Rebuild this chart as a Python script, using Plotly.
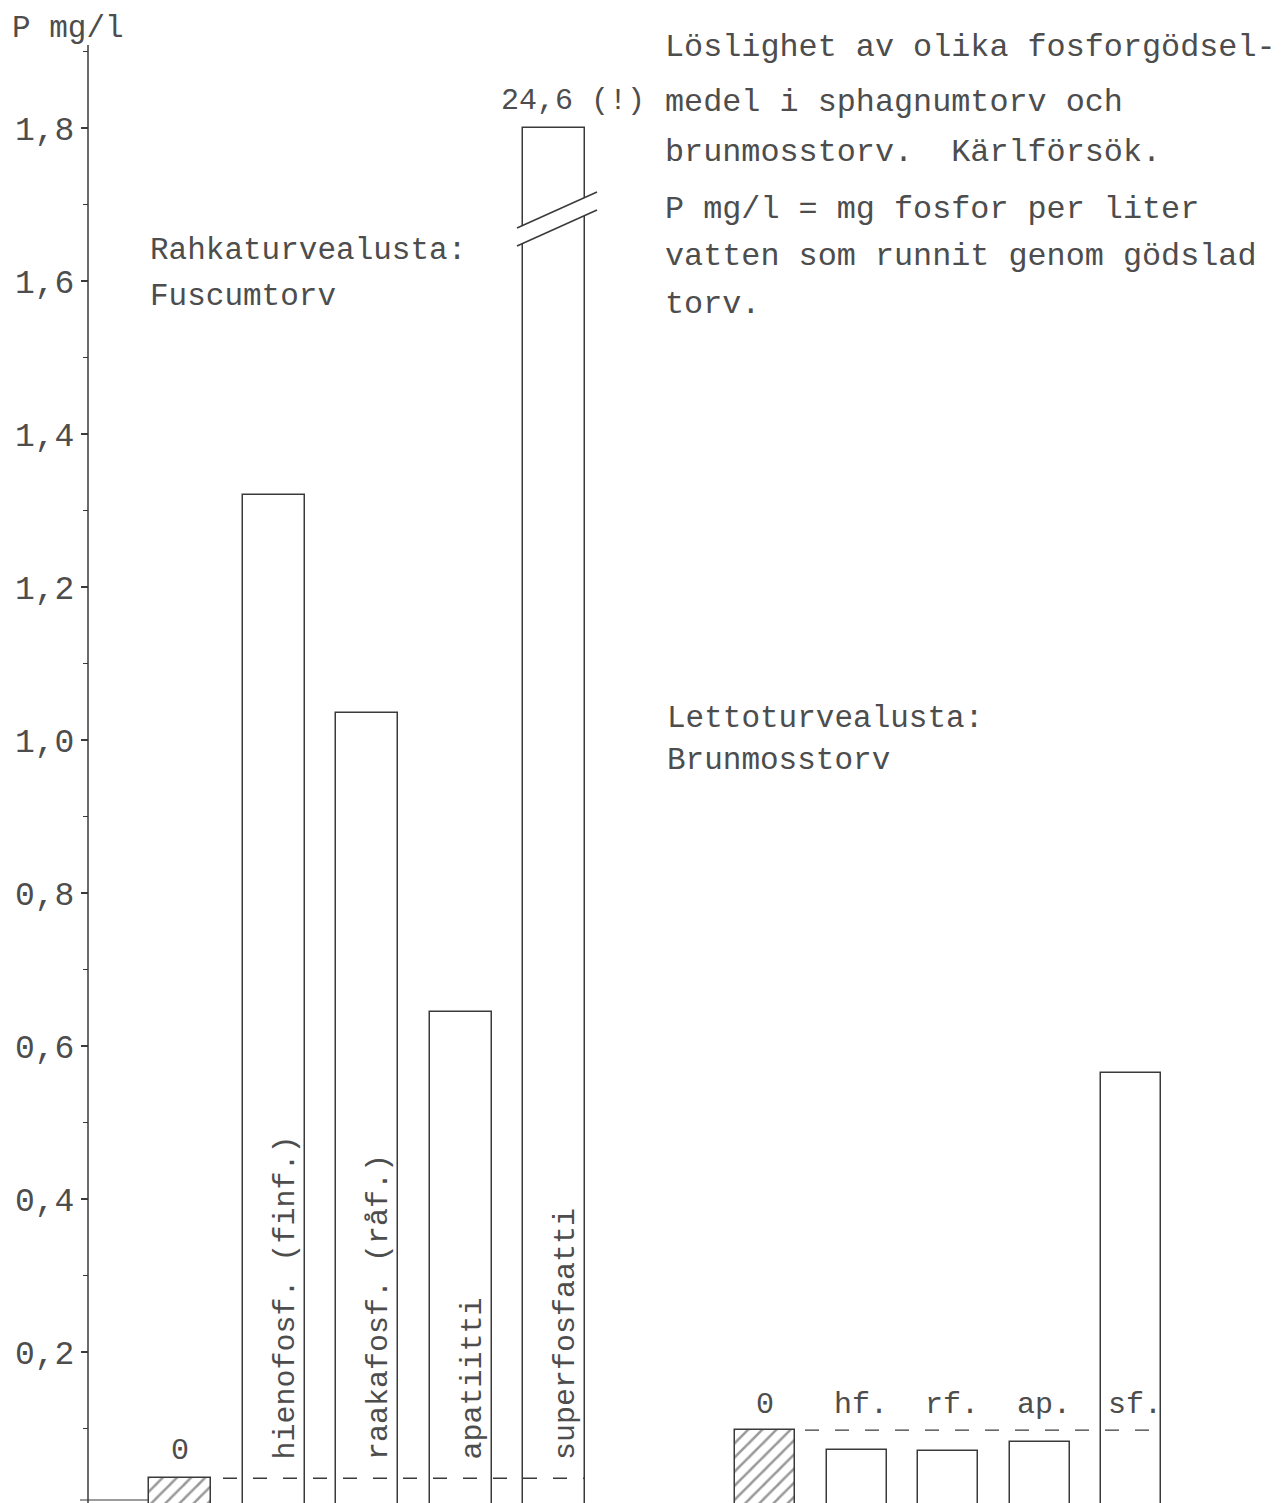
import plotly.graph_objects as go

# ---------------- data ----------------
left_categories = ["0", "hienofosf. (finf.)", "raakafosf. (råf.)", "apatiitti", "superfosfaatti"]
left_values = [0.035, 1.32, 1.035, 0.645, 24.6]
right_categories = ["0", "hf.", "rf.", "ap.", "sf."]
right_values = [0.098, 0.072, 0.071, 0.082, 0.565]
axis_break = 1.8
y_tick_values = [0.2, 0.4, 0.6, 0.8, 1.0, 1.2, 1.4, 1.6, 1.8]
y_axis_title = "P mg/l"
left_group_title = ["Rahkaturvealusta:", "Fuscumtorv"]
right_group_title = ["Lettoturvealusta:", "Brunmosstorv"]
caption_lines = [
    "Löslighet av olika fosforgödsel-",
    "medel i sphagnumtorv och",
    "brunmosstorv.  Kärlförsök.",
    "P mg/l = mg fosfor per liter",
    "vatten som runnit genom gödslad",
    "torv.",
]

# ---------------- layout helpers ----------------
W, H = 1286, 1503
Y0_PX = 1505.0        # pixel row of value 0
PX_PER_UNIT = 765.0   # pixels per 1 mg/l
AXIS_X = 88


def v(py):
    """pixel row -> data value (layout helper for text placement)"""
    return (Y0_PX - py) / PX_PER_UNIT


FONT = "Liberation Mono, Courier New, monospace"
TXT = "#4d4d4d"
LINE = "#3a3a3a"

left_x = [180 + i * 93.5 for i in range(len(left_values))]
right_x = [765 + i * 91.5 for i in range(len(right_values))]
left_w, right_w = 62, 60

left_draw = [min(val, axis_break) for val in left_values]
right_draw = [min(val, axis_break) for val in right_values]

fig = go.Figure()
for xs, ys, w, cats in ((left_x, left_draw, left_w, left_categories),
                        (right_x, right_draw, right_w, right_categories)):
    fig.add_trace(go.Bar(
        x=xs, y=ys, width=w,
        marker=dict(color="white", line=dict(color=LINE, width=1.5),
                    pattern=dict(shape=["/"] + [""] * (len(ys) - 1),
                                 fgcolor="#333", bgcolor="white", size=10, solidity=0.25)),
        hovertext=cats, showlegend=False,
    ))

shapes = []
# y axis line
shapes.append(dict(type="line", xref="x", yref="y", x0=AXIS_X, x1=AXIS_X, y0=v(H), y1=v(45),
                   line=dict(color=LINE, width=1.5)))
# short base line segment at bottom left
shapes.append(dict(type="line", xref="x", yref="y", x0=AXIS_X - 8, x1=left_x[0] - left_w / 2,
                   y0=v(1500), y1=v(1500), line=dict(color=LINE, width=1.2)))
# dashed reference lines at control level
shapes.append(dict(type="line", xref="x", yref="y",
                   x0=left_x[0] + left_w / 2 + 12, x1=left_x[-1] + left_w / 2,
                   y0=left_values[0], y1=left_values[0],
                   line=dict(color=LINE, width=1.3, dash="14px,16px")))
shapes.append(dict(type="line", xref="x", yref="y",
                   x0=right_x[0] + right_w / 2 + 10, x1=right_x[-1] + right_w / 2,
                   y0=right_values[0], y1=right_values[0],
                   line=dict(color=LINE, width=1.3, dash="14px,16px")))
# axis break on the superfosfaatti bar
bx0 = left_x[-1] - left_w / 2 - 6
bx1 = left_x[-1] + left_w / 2 + 12
up_l, up_r = v(228), v(192)
lo_l, lo_r = v(246), v(210)
shapes.append(dict(type="path", xref="x", yref="y",
                   path=f"M {bx0},{up_l} L {bx1},{up_r} L {bx1},{lo_r} L {bx0},{lo_l} Z",
                   fillcolor="white", line=dict(width=0)))
for yl, yr in ((up_l, up_r), (lo_l, lo_r)):
    shapes.append(dict(type="line", xref="x", yref="y", x0=bx0, x1=bx1, y0=yl, y1=yr,
                       line=dict(color=LINE, width=1.5)))

ann = []
def text(x, y, s, size=31, xanchor="left", yanchor="middle", angle=0, xref="x", yref="y"):
    ann.append(dict(x=x, y=y, xref=xref, yref=yref, text=s, showarrow=False,
                    xanchor=xanchor, yanchor=yanchor, textangle=angle,
                    font=dict(family=FONT, size=size, color=TXT)))

text(10, v(28), y_axis_title, size=31)
# rotated category labels inside left bars
for x, cat in zip(left_x[1:], left_categories[1:]):
    text(x + 12, v(1462), cat, size=30, xanchor="center", yanchor="bottom", angle=-90)
# control label over left hatched bar
text(left_x[0], left_values[0], left_categories[0], size=30, xanchor="center", yanchor="bottom")
ann[-1]["yshift"] = 8
# labels above right bars
for x, cat in zip(right_x, right_categories):
    text(x + (4 if cat != "0" else 0), v(1405), cat, size=30, xanchor="center")
# broken bar value
text(left_x[-1] - left_w / 2 - 24, axis_break, f"{left_values[-1]:.1f}".replace(".", ",") + " (!)",
     size=30, xanchor="left", yanchor="bottom")
ann[-1]["yshift"] = 8
# group titles
text(148, v(250), left_group_title[0])
text(148, v(296), left_group_title[1])
text(665, v(718), right_group_title[0])
text(665, v(760), right_group_title[1])
# caption block
for py, line in zip([48, 103, 153, 210, 257, 305], caption_lines):
    text(663, v(py), line, size=31.8)

fig.update_layout(
    width=W, height=H,
    margin=dict(l=0, r=0, t=0, b=0),
    paper_bgcolor="white", plot_bgcolor="white",
    separators=", ",
    bargap=0,
    shapes=shapes, annotations=ann,
    xaxis=dict(range=[0, W], visible=False, showgrid=False, zeroline=False),
    yaxis=dict(range=[v(H), v(0)], anchor="free", position=AXIS_X / W,
               showline=False, showgrid=False, zeroline=False,
               tickvals=y_tick_values, tickformat=".1f",
               ticks="outside", ticklen=7, tickwidth=1.5, tickcolor=LINE,
               minor=dict(tickvals=[0.1, 0.3, 0.5, 0.7, 0.9, 1.1, 1.3, 1.5, 1.7, 1.9],
                          ticks="outside", ticklen=5, tickwidth=1.2, tickcolor=LINE),
               tickfont=dict(family=FONT, size=33, color=TXT)),
)

fig.write_html("out.html", config={"displayModeBar": False},
               post_script="document.body.style.margin='0';")
